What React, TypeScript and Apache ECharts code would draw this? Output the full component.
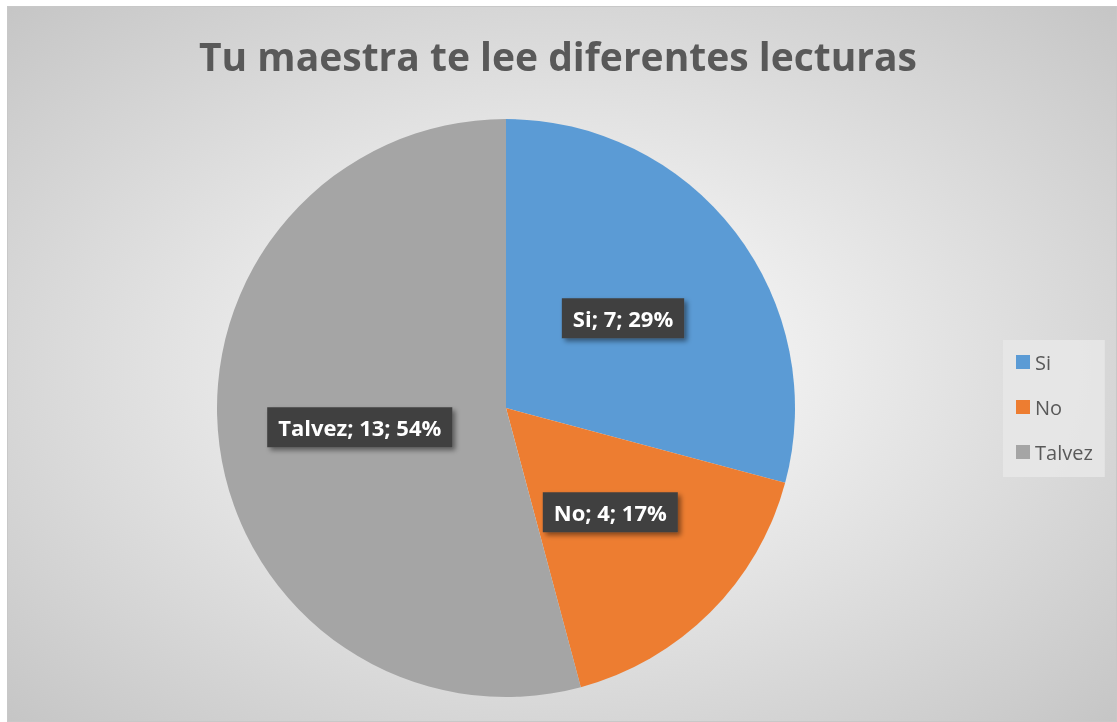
import React, { useEffect, useRef } from "react";
import * as echarts from "echarts";

const categories = ["Si", "No", "Talvez"];
const values = [7, 4, 13];
const colors = ["#5B9BD5", "#ED7D31", "#A5A5A5"];
const titleText = "Tu maestra te lee diferentes lecturas";

export default function App() {
  const ref = useRef<HTMLDivElement>(null);
  useEffect(() => {
    if (!ref.current) return;
    const chart = echarts.init(ref.current, null, { renderer: "svg" });
    const total = values.reduce((a, b) => a + b, 0);
    chart.setOption({
      animation: false,
      backgroundColor: {
        type: "radial",
        x: 0.5,
        y: 0.5,
        r: 0.75,
        colorStops: [
          { offset: 0, color: "#ffffff" },
          { offset: 1, color: "#c2c2c2" },
        ],
      },
      title: {
        text: titleText,
        left: 545,
        top: 24,
        textAlign: "center",
        textStyle: {
          fontFamily: "Open Sans",
          fontWeight: "bold",
          fontSize: 39,
          color: "#595959",
        },
      },
      legend: {
        orient: "vertical",
        left: 995,
        top: 333,
        padding: [12, 12, 15, 13],
        backgroundColor: "rgba(232,232,232,0.85)",
        itemWidth: 14,
        itemHeight: 14,
        itemGap: 25,
        icon: "rect",
        data: categories,
        textStyle: {
          fontFamily: "Open Sans",
          fontSize: 20,
          color: "#595959",
        },
      },
      series: [
        {
          type: "pie",
          center: [498, 401],
          radius: [0, 289],
          startAngle: 90,
          clockwise: true,
          data: categories.map((c, i) => ({
            name: c,
            value: values[i],
            itemStyle: { color: colors[i] },
          })),
          label: {
            show: true,
            position: "inside",
            formatter: (p: any) =>
              `${p.name}; ${p.value}; ${Math.round((p.value / total) * 100)}%`,
            backgroundColor: "#404040",
            color: "#ffffff",
            fontFamily: "Open Sans",
            fontWeight: "bold",
            fontSize: 22,
            lineHeight: 26,
            padding: [7, 11, 7, 11],
            shadowColor: "rgba(0,0,0,0.45)",
            shadowBlur: 5,
            shadowOffsetX: 3,
            shadowOffsetY: 3,
          },
          labelLine: { show: false },
          emphasis: { disabled: true },
        },
      ],
    });
    return () => chart.dispose();
  }, []);
  return (
    <div
      style={{
        position: "fixed",
        left: 7,
        top: 6,
        width: 1110,
        height: 716,
        border: "1px solid #c8c8c8",
        boxSizing: "border-box",
      }}
    >
      <div ref={ref} style={{ width: 1108, height: 714 }} />
    </div>
  );
}
